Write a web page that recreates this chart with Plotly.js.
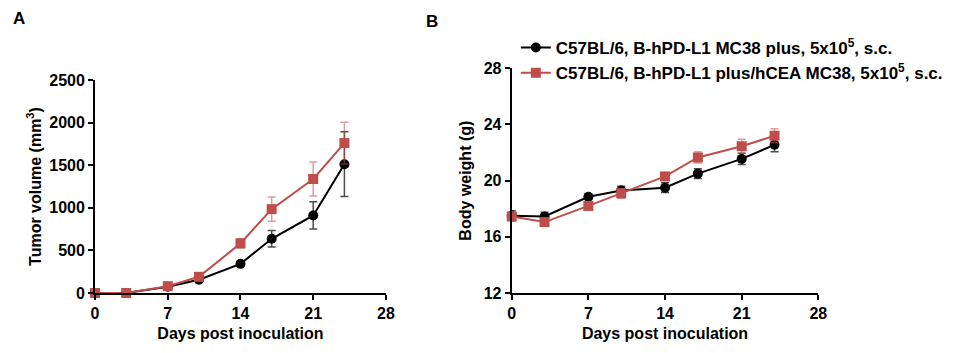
<!DOCTYPE html>
<html><head><meta charset="utf-8">
<script src="https://cdn.plot.ly/plotly-3.0.1.min.js"></script>
<style>html,body{margin:0;padding:0;background:#fff}#chart{width:957px;height:353px}</style>
</head><body><div id="chart"></div>
<script>
const days = [0, 3, 7, 10, 14, 17, 21, 24];
const seriesNames = [
  'C57BL/6, B-hPD-L1 MC38 plus, 5x10<sup>5</sup>, s.c.',
  'C57BL/6, B-hPD-L1 plus/hCEA MC38, 5x10<sup>5</sup>, s.c.'
];
// Panel A: tumor volume (mm3)
const volBlack = [0, 0, 74, 155, 342, 636, 910, 1512];
const volBlackErr = [0, 0, 8, 15, 22, 97, 160, 380];
const volRed = [0, 0, 80, 190, 582, 984, 1338, 1760];
const volRedErr = [0, 0, 8, 18, 55, 143, 200, 245];
// Panel B: body weight (g)
const bwBlack = [17.5, 17.45, 18.85, 19.3, 19.5, 20.5, 21.55, 22.55];
const bwBlackErr = [0.35, 0.3, 0.2, 0.3, 0.35, 0.35, 0.4, 0.5];
const bwRed = [17.45, 17.05, 18.2, 19.1, 20.3, 21.65, 22.45, 23.2];
const bwRedErr = [0.3, 0.2, 0.25, 0.35, 0.25, 0.4, 0.5, 0.5];

const BLACK = '#000000';
const RED = '#BF4D4A';
const REDERR = 'rgba(191,77,74,0.55)';
const FONT = 'Liberation Sans, Arial, sans-serif';

function tr(x, y, err, color, errColor, symbol, size, name, xa, ya, show) {
  return {
    x: x, y: y, type: 'scatter', mode: 'lines+markers', name: name,
    xaxis: xa, yaxis: ya, showlegend: show, cliponaxis: false,
    line: {color: color, width: 2},
    marker: {color: color, symbol: symbol, size: size},
    error_y: {type: 'data', array: err, visible: true, color: errColor, thickness: 1.5, width: 4}
  };
}

const data = [
  tr(days, volBlack, volBlackErr, BLACK, 'rgba(0,0,0,0.7)', 'circle', 10, seriesNames[0], 'x', 'y', false),
  tr(days, volRed, volRedErr, RED, REDERR, 'square', 10, seriesNames[1], 'x', 'y', false),
  tr(days, bwBlack, bwBlackErr, BLACK, 'rgba(0,0,0,0.7)', 'circle', 10, seriesNames[0], 'x2', 'y2', true),
  tr(days, bwRed, bwRedErr, RED, REDERR, 'square', 10, seriesNames[1], 'x2', 'y2', true)
];

const axBase = {
  showline: true, linecolor: '#000', linewidth: 2, showgrid: false, zeroline: false,
  ticks: 'outside', ticklen: 5, tickwidth: 2, tickcolor: '#000',
  tickfont: {family: FONT, size: 16, color: '#000', weight: 'bold'}
};
const titleFont = {family: FONT, size: 16, color: '#000', weight: 'bold'};

const layout = {
  width: 957, height: 353,
  margin: {l: 0, r: 0, t: 0, b: 0, autoexpand: false},
  paper_bgcolor: '#fff', plot_bgcolor: '#fff',
  showlegend: true,
  xaxis: Object.assign({}, axBase, {domain: [0.0993, 0.4033], range: [0, 28], tickvals: [0, 7, 14, 21, 28], anchor: 'y',
    title: {text: 'Days post inoculation', font: titleFont, standoff: 7}}),
  yaxis: Object.assign({}, axBase, {domain: [0.170, 0.7734], range: [0, 2500], tickvals: [0, 500, 1000, 1500, 2000, 2500], anchor: 'x',
    title: {text: 'Tumor volume (mm<sup>3</sup>)', font: titleFont, standoff: 4}}),
  xaxis2: Object.assign({}, axBase, {domain: [0.5347, 0.8551], range: [0, 28], tickvals: [0, 7, 14, 21, 28], anchor: 'y2',
    title: {text: 'Days post inoculation', font: titleFont, standoff: 7}}),
  yaxis2: Object.assign({}, axBase, {domain: [0.170, 0.8065], range: [12, 28], tickvals: [12, 16, 20, 24, 28], anchor: 'x2',
    title: {text: 'Body weight (g)', font: titleFont, standoff: 8}}),
  legend: {x: 0.539, y: 0.915, xanchor: 'left', yanchor: 'top', bgcolor: 'rgba(0,0,0,0)',
    font: {family: FONT, size: 17, color: '#000', weight: 'bold'}, itemwidth: 30, tracegroupgap: 0},
  annotations: [
    {text: 'A', x: 11/957, y: 1 - 19/353, xref: 'paper', yref: 'paper', showarrow: false, xanchor: 'left', yanchor: 'middle',
      font: {family: FONT, size: 17, color: '#000', weight: 'bold'}},
    {text: 'B', x: 424/957, y: 1 - 21/353, xref: 'paper', yref: 'paper', showarrow: false, xanchor: 'left', yanchor: 'middle',
      font: {family: FONT, size: 17, color: '#000', weight: 'bold'}}
  ]
};

Plotly.newPlot('chart', data, layout, {displayModeBar: false, staticPlot: true});
</script>
</body></html>
